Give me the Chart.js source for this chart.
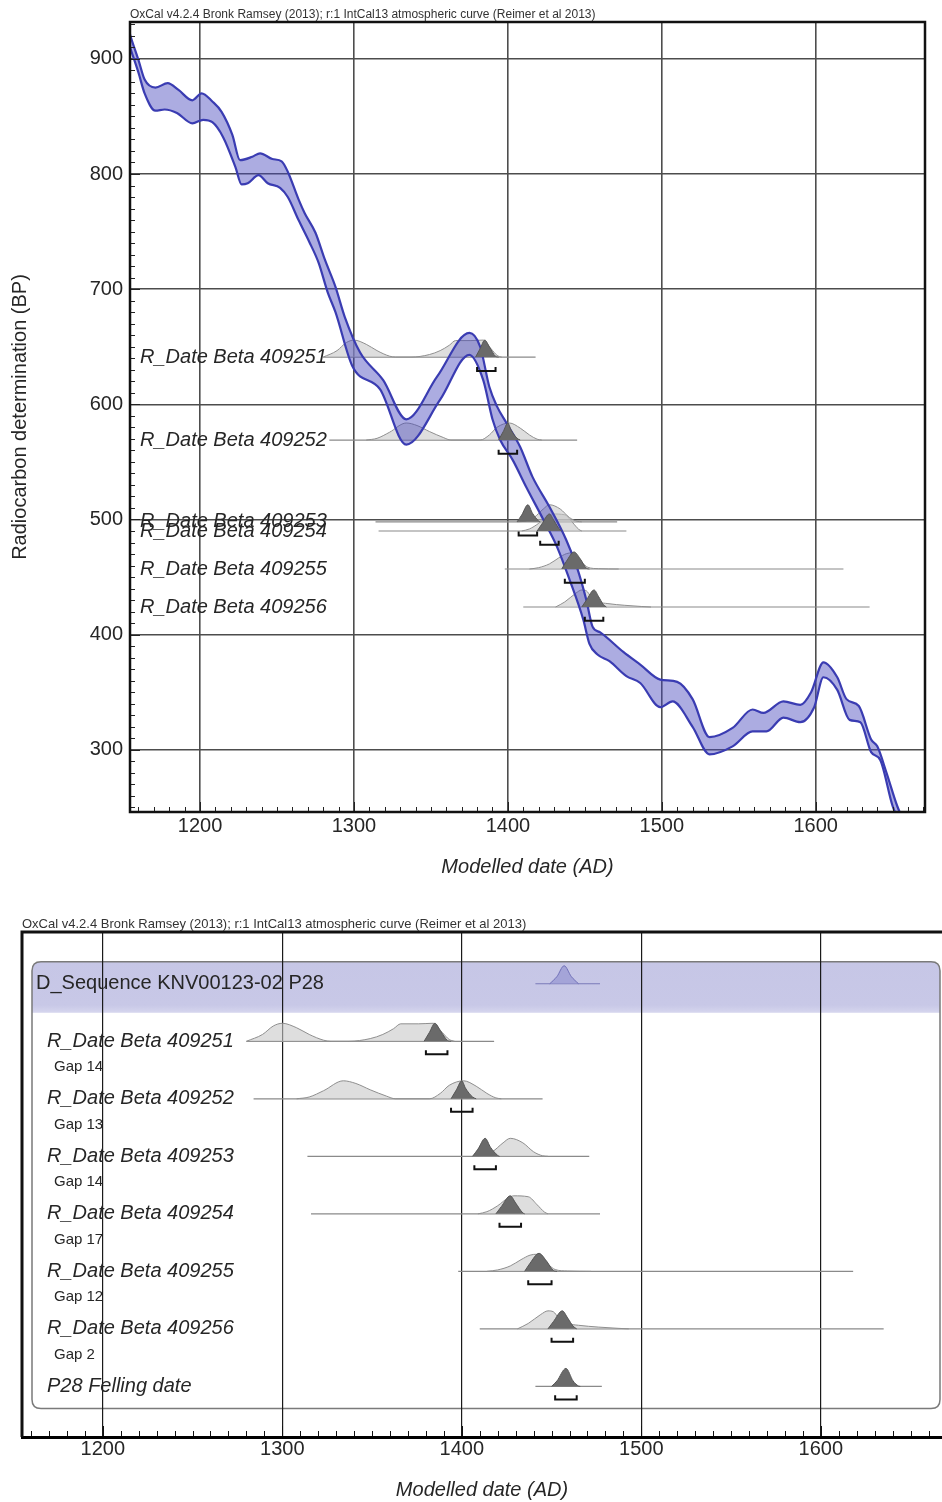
<!DOCTYPE html>
<html>
<head>
<meta charset="utf-8">
<title>OxCal KNV00123-02 P28</title>
<script src="https://cdn.jsdelivr.net/npm/chart.js@4.4.1/dist/chart.umd.min.js"></script>
<style>
  html, body { margin: 0; padding: 0; background: #fff; }
  canvas { display: block; }
</style>
</head>
<body>
<canvas id="curveChart" width="942" height="900"></canvas>
<canvas id="multiChart" width="942" height="602"></canvas>
<script>
// --- data ---
const headerText = 'OxCal v4.2.4 Bronk Ramsey (2013); r:1 IntCal13 atmospheric curve (Reimer et al 2013)';
const xTickLabels = [1200, 1300, 1400, 1500, 1600];
const yTickLabels = [300, 400, 500, 600, 700, 800, 900];

// IntCal13 band, upper and lower edges (year AD, BP)
const curveUpperYears = [1153, 1155, 1160, 1164, 1171, 1179, 1186, 1195, 1201, 1208, 1214, 1221, 1226, 1234, 1239, 1247, 1253, 1257, 1264, 1268, 1275, 1281, 1288, 1294, 1304, 1319, 1334, 1354, 1375, 1382, 1388, 1393, 1399, 1408, 1416, 1427, 1438, 1445, 1451, 1455, 1460, 1475, 1486, 1499, 1510, 1520, 1531, 1546, 1559, 1566, 1579, 1590, 1597, 1605, 1614, 1620, 1628, 1636, 1640, 1646, 1653, 1658];
const curveUpperBP = [928, 919, 899, 882, 875, 879, 873, 864, 870, 863, 854, 834, 812, 815, 818, 813, 811, 802, 778, 766, 749, 726, 702, 676, 645, 621, 587, 624, 662, 650, 615, 598, 584, 563, 537, 511, 482, 458, 430, 407, 402, 385, 374, 361, 359, 344, 311, 319, 335, 332, 342, 339, 350, 376, 363, 344, 338, 309, 303, 280, 251, 236];
const curveLowerYears = [1153, 1155, 1160, 1164, 1171, 1177, 1185, 1195, 1202, 1208, 1215, 1223, 1227, 1231, 1238, 1244, 1252, 1257, 1264, 1271, 1277, 1283, 1288, 1299, 1317, 1334, 1356, 1375, 1384, 1390, 1395, 1403, 1412, 1423, 1432, 1440, 1449, 1453, 1458, 1466, 1477, 1486, 1499, 1507, 1520, 1531, 1546, 1559, 1568, 1579, 1590, 1599, 1605, 1614, 1622, 1629, 1636, 1642, 1650, 1655];
const curveLowerBP = [916, 908, 888, 870, 855, 856, 853, 844, 847, 845, 832, 806, 791, 792, 799, 792, 788, 780, 760, 741, 723, 697, 680, 633, 613, 565, 604, 643, 621, 587, 569, 552, 528, 500, 476, 448, 413, 392, 383, 377, 364, 358, 337, 342, 320, 296, 303, 316, 316, 328, 324, 337, 363, 352, 326, 324, 298, 291, 251, 236];

// R_Dates
const dateNames = ['R_Date Beta 409251', 'R_Date Beta 409252', 'R_Date Beta 409253', 'R_Date Beta 409254', 'R_Date Beta 409255', 'R_Date Beta 409256'];
const dateBP = [641, 569, 498, 490, 457, 424];
const gapNames = ['Gap 14', 'Gap 13', 'Gap 14', 'Gap 17', 'Gap 12', 'Gap 2'];
const rangeStart = [1280, 1284, 1314, 1316, 1398, 1410];
const rangeEnd = [1418, 1445, 1471, 1477, 1618, 1635];
const hpdStart = [1380, 1394, 1407, 1421, 1437, 1450];
const hpdEnd = [1392, 1406, 1419, 1433, 1450, 1462];

// unmodelled (light) distributions, relative probability
const likeYears = [
  [1280, 1289, 1295, 1300, 1308, 1315, 1323, 1327, 1337, 1349, 1356, 1362, 1366, 1376, 1384, 1389, 1393, 1396],
  [1308, 1315, 1323, 1334, 1341, 1349, 1358, 1363, 1382, 1388, 1393, 1401, 1408, 1414, 1419, 1422],
  [1406, 1412, 1417, 1423, 1427, 1434, 1440, 1445, 1448],
  [1409, 1414, 1420, 1426, 1429, 1437, 1442, 1446, 1448],
  [1414, 1420, 1427, 1433, 1438, 1442, 1448, 1452, 1459, 1472],
  [1431, 1437, 1444, 1448, 1451, 1454, 1459, 1465, 1476, 1487, 1493]
];
const likeProb = [
  [0, 0.38, 0.85, 1, 0.75, 0.38, 0.06, 0, 0, 0.15, 0.38, 0.7, 0.97, 0.97, 1, 0.5, 0.1, 0],
  [0, 0.1, 0.45, 1, 0.85, 0.5, 0.15, 0, 0, 0.3, 0.75, 1, 0.7, 0.3, 0.05, 0],
  [0, 0.05, 0.25, 0.75, 1, 0.75, 0.25, 0.03, 0],
  [0, 0.12, 0.45, 0.9, 1, 0.95, 0.5, 0.1, 0],
  [0, 0.08, 0.3, 0.65, 0.9, 0.95, 0.4, 0.1, 0.02, 0],
  [0, 0.3, 0.8, 1, 0.95, 0.6, 0.3, 0.2, 0.1, 0.03, 0]
];
// modelled (dark) distributions
const postYears = [
  [1379, 1382, 1385, 1388, 1392, 1394],
  [1394, 1397, 1400, 1402, 1406, 1408],
  [1406, 1409, 1413, 1416, 1420, 1421],
  [1419, 1422, 1427, 1430, 1434, 1435],
  [1435, 1438, 1443, 1447, 1451, 1453],
  [1448, 1451, 1456, 1459, 1462, 1464]
];
const postProb = [
  [0, 0.5, 1, 0.6, 0.05, 0],
  [0, 0.5, 1, 0.6, 0.1, 0],
  [0, 0.4, 1, 0.5, 0.05, 0],
  [0, 0.4, 1, 0.6, 0.05, 0],
  [0, 0.45, 1, 0.6, 0.05, 0],
  [0, 0.4, 1, 0.6, 0.15, 0]
];

const seqName = 'D_Sequence KNV00123-02 P28';
const seqYears = [1449, 1453, 1457, 1461, 1465];
const seqProb = [0, 0.4, 1, 0.4, 0];
const seqRange = [1441, 1477];

const fellName = 'P28 Felling date';
const fellYears = [1450, 1453, 1458, 1462, 1465, 1466];
const fellProb = [0, 0.3, 1, 0.3, 0.02, 0];
const fellRange = [1441, 1478];
const fellHpd = [1452, 1464];

// --- styling ---
const FONT = '"Liberation Sans", Arial, sans-serif';
const TEXT = '#262626';
const LIGHT_FILL = 'rgba(200,200,200,0.6)';
const LIGHT_EDGE = '#8f8f8f';
const DARK_FILL = '#6a6a6a';
const DARK_EDGE = '#555';
const RANGE_COLOR = '#8a8a8a';

function pts(xs, ys) {
  return xs.map((x, i) => ({ x: x, y: ys[i] }));
}
function distPts(xs, probs, base, h) {
  return xs.map((x, i) => ({ x: x, y: base + probs[i] * h }));
}
function bracketPts(s, e, y0, tick) {
  return [{ x: s, y: y0 + tick }, { x: s, y: y0 }, { x: e, y: y0 }, { x: e, y: y0 + tick }];
}

function distSet(data, base, fill, edge, order) {
  return {
    data: data, fill: { value: base }, backgroundColor: fill, borderColor: edge,
    borderWidth: 1, pointRadius: 0, cubicInterpolationMode: 'monotone', order: order
  };
}
function lineSet(data, color, width, order) {
  return { data: data, fill: false, borderColor: color, borderWidth: width, pointRadius: 0, tension: 0, order: order };
}

function minorTicks(ctx, scale, from, to, step, major, fixed, len, bigLen, horizontal) {
  ctx.beginPath();
  for (let v = from; v <= to; v += step) {
    const p = Math.round(scale.getPixelForValue(v)) + 0.5;
    const l = v % major === 0 ? bigLen : len;
    if (horizontal) { ctx.moveTo(p, fixed); ctx.lineTo(p, fixed - l); }
    else { ctx.moveTo(fixed, p); ctx.lineTo(fixed + l, p); }
  }
  ctx.stroke();
}

// ---------- top: calibration curve ----------
const TOP_H = 14.8;   // peak height in BP units
const TOP_BR = 12;    // bracket offset below the line
const TOP_TICK = 3.5;

const topSets = [
  { data: pts(curveUpperYears, curveUpperBP), fill: false, borderColor: '#3a3cb2', borderWidth: 2.2,
    pointRadius: 0, cubicInterpolationMode: 'monotone', order: 3 },
  { data: pts(curveLowerYears, curveLowerBP), fill: '-1', backgroundColor: 'rgba(72,72,188,0.45)',
    borderColor: '#3a3cb2', borderWidth: 2.2, pointRadius: 0, cubicInterpolationMode: 'monotone', order: 3 }
];
dateBP.forEach((bp, i) => {
  topSets.push(lineSet([{ x: rangeStart[i], y: bp }, { x: rangeEnd[i], y: bp }], RANGE_COLOR, 1.2, 5));
  topSets.push(distSet(distPts(likeYears[i], likeProb[i], bp, TOP_H), bp, LIGHT_FILL, LIGHT_EDGE, 4));
  topSets.push(distSet(distPts(postYears[i], postProb[i], bp, TOP_H), bp, DARK_FILL, DARK_EDGE, 2));
  topSets.push(lineSet(bracketPts(hpdStart[i], hpdEnd[i], bp - TOP_BR, TOP_TICK), '#111', 2, 1));
});

const topDecor = {
  id: 'topDecor',
  afterDatasetsDraw(chart) {
    const { ctx, scales: { y } } = chart;
    ctx.save();
    ctx.fillStyle = TEXT;
    ctx.font = 'italic 20px ' + FONT;
    ctx.textBaseline = 'middle';
    dateNames.forEach((name, i) => ctx.fillText(name, 140, y.getPixelForValue(dateBP[i])));
    ctx.restore();
  },
  afterDraw(chart) {
    const { ctx, chartArea: a, scales: { x, y } } = chart;
    ctx.save();
    ctx.strokeStyle = '#222';
    ctx.lineWidth = 1;
    minorTicks(ctx, x, 1160, 1670, 10, 100, a.bottom, 5, 10, true);
    minorTicks(ctx, y, 250, 930, 10, 100, a.left, 5, 10, false);
    ctx.lineWidth = 2.5;
    ctx.strokeStyle = '#111';
    ctx.strokeRect(a.left, a.top, a.width, a.height);
    ctx.fillStyle = '#333';
    ctx.font = '12px ' + FONT;
    ctx.textBaseline = 'alphabetic';
    ctx.fillText(headerText, a.left, a.top - 4, 480);
    ctx.restore();
  }
};

new Chart(document.getElementById('curveChart'), {
  type: 'line',
  data: { datasets: topSets },
  options: {
    responsive: false,
    animation: false,
    devicePixelRatio: 1,
    layout: { padding: { left: 0, right: 17, top: 22, bottom: 0 } },
    plugins: { legend: { display: false }, tooltip: { enabled: false } },
    scales: {
      x: {
        type: 'linear', min: 1154.5, max: 1671,
        afterFit: s => { s.height = 88; },
        ticks: { stepSize: 100, includeBounds: false, maxRotation: 0, padding: 2, color: TEXT,
          font: { family: FONT, size: 20 }, callback: v => xTickLabels.includes(v) ? String(v) : '' },
        grid: { color: '#4d4d4d', lineWidth: 1.6, drawTicks: false },
        border: { display: false },
        title: { display: true, text: 'Modelled date (AD)', color: TEXT,
          font: { family: FONT, size: 20, style: 'italic' }, padding: { top: 0, bottom: 21 } }
      },
      y: {
        type: 'linear', min: 246, max: 932,
        afterFit: s => { s.width = 130; },
        ticks: { stepSize: 100, includeBounds: false, padding: 7, color: TEXT,
          font: { family: FONT, size: 20 }, callback: v => yTickLabels.includes(v) ? String(v) : '' },
        grid: { color: '#4d4d4d', lineWidth: 1.6, drawTicks: false },
        border: { display: false },
        title: { display: true, text: 'Radiocarbon determination (BP)', color: TEXT,
          font: { family: FONT, size: 20 }, padding: { top: 8, bottom: 0 } }
      }
    }
  },
  plugins: [topDecor]
});

// ---------- bottom: multiplot ----------
const ROW_H = -0.313;   // peak height in row units (axis reversed)
const ROW_BR = 0.226;
const ROW_TICK = -0.07;

const botSets = [];
botSets.push(lineSet([{ x: seqRange[0], y: 0 }, { x: seqRange[1], y: 0 }], '#7a7ab8', 1.2, 5));
botSets.push(distSet(distPts(seqYears, seqProb, 0, ROW_H), 0, 'rgba(150,150,210,0.7)', '#7070b8', 2));
dateNames.forEach((name, i) => {
  const row = i + 1;
  botSets.push(lineSet([{ x: rangeStart[i], y: row }, { x: rangeEnd[i], y: row }], RANGE_COLOR, 1.2, 5));
  botSets.push(distSet(distPts(likeYears[i], likeProb[i], row, ROW_H), row, LIGHT_FILL, LIGHT_EDGE, 4));
  botSets.push(distSet(distPts(postYears[i], postProb[i], row, ROW_H), row, DARK_FILL, DARK_EDGE, 2));
  botSets.push(lineSet(bracketPts(hpdStart[i], hpdEnd[i], row + ROW_BR, ROW_TICK), '#111', 2, 1));
});
botSets.push(lineSet([{ x: fellRange[0], y: 7 }, { x: fellRange[1], y: 7 }], RANGE_COLOR, 1.2, 5));
botSets.push(distSet(distPts(fellYears, fellProb, 7, ROW_H), 7, DARK_FILL, DARK_EDGE, 2));
botSets.push(lineSet(bracketPts(fellHpd[0], fellHpd[1], 7 + ROW_BR, ROW_TICK), '#111', 2, 1));

function roundRect(ctx, l, t, r, b, rad) {
  ctx.beginPath();
  ctx.moveTo(l + rad, t);
  ctx.lineTo(r - rad, t);
  ctx.quadraticCurveTo(r, t, r, t + rad);
  ctx.lineTo(r, b - rad);
  ctx.quadraticCurveTo(r, b, r - rad, b);
  ctx.lineTo(l + rad, b);
  ctx.quadraticCurveTo(l, b, l, b - rad);
  ctx.lineTo(l, t + rad);
  ctx.quadraticCurveTo(l, t, l + rad, t);
  ctx.closePath();
}

const botDecor = {
  id: 'botDecor',
  beforeDraw(chart) {
    const { ctx, chartArea: a, scales: { y } } = chart;
    const l = a.left + 10, r = chart.width - 2;
    const t = y.getPixelForValue(0) - 22, hb = y.getPixelForValue(0) + 29, b = y.getPixelForValue(7) + 22;
    ctx.save();
    roundRect(ctx, l, t, r, b, 9);
    ctx.fillStyle = '#fff';
    ctx.fill();
    ctx.save();
    ctx.clip();
    const g = ctx.createLinearGradient(0, t, 0, hb);
    g.addColorStop(0, '#c6c6e6');
    g.addColorStop(0.85, '#c8c8e7');
    g.addColorStop(1, '#d6d6ee');
    ctx.fillStyle = g;
    ctx.fillRect(l, t, r - l, hb - t);
    ctx.restore();
    roundRect(ctx, l, t, r, b, 9);
    ctx.strokeStyle = '#7a7a7a';
    ctx.lineWidth = 1.5;
    ctx.stroke();
    ctx.restore();
  },
  afterDraw(chart) {
    const { ctx, chartArea: a, scales: { x, y } } = chart;
    ctx.save();
    ctx.strokeStyle = '#111';
    ctx.lineWidth = 1;
    minorTicks(ctx, x, 1160, 1660, 10, 100, a.bottom - 1, 5, 10, true);
    ctx.lineWidth = 3;
    ctx.beginPath();
    ctx.moveTo(a.left, a.bottom);
    ctx.lineTo(a.left, a.top);
    ctx.lineTo(chart.width, a.top);
    ctx.stroke();

    ctx.fillStyle = TEXT;
    ctx.textBaseline = 'middle';
    ctx.font = '20px ' + FONT;
    ctx.fillText(seqName, 36, y.getPixelForValue(0));
    ctx.font = 'italic 20px ' + FONT;
    dateNames.forEach((name, i) => ctx.fillText(name, 47, y.getPixelForValue(i + 1)));
    ctx.fillText(fellName, 47, y.getPixelForValue(7));
    ctx.font = '15px ' + FONT;
    gapNames.forEach((name, i) => ctx.fillText(name, 54, y.getPixelForValue(i + 1.45)));

    ctx.fillStyle = '#333';
    ctx.font = '13px ' + FONT;
    ctx.textBaseline = 'alphabetic';
    ctx.fillText(headerText, a.left, a.top - 4, 535);
    ctx.restore();
  }
};

new Chart(document.getElementById('multiChart'), {
  type: 'line',
  data: { datasets: botSets },
  options: {
    responsive: false,
    animation: false,
    devicePixelRatio: 1,
    layout: { padding: { left: 22, right: 0, top: 32, bottom: 0 } },
    plugins: { legend: { display: false }, tooltip: { enabled: false } },
    scales: {
      x: {
        type: 'linear', min: 1155, max: 1667.5,
        afterFit: s => { s.height = 65; },
        ticks: { stepSize: 100, includeBounds: false, maxRotation: 0, padding: 0, color: TEXT,
          font: { family: FONT, size: 20 }, callback: v => xTickLabels.includes(v) ? String(v) : '' },
        grid: { color: '#1a1a1a', lineWidth: 1.2, drawTicks: false },
        border: { display: true, color: '#000', width: 3 },
        title: { display: true, text: 'Modelled date (AD)', color: TEXT,
          font: { family: FONT, size: 20, style: 'italic' }, padding: { top: 0, bottom: 0 } }
      },
      y: {
        type: 'linear', display: false, reverse: true, min: -0.9, max: 7.88
      }
    }
  },
  plugins: [botDecor]
});
</script>
</body>
</html>
